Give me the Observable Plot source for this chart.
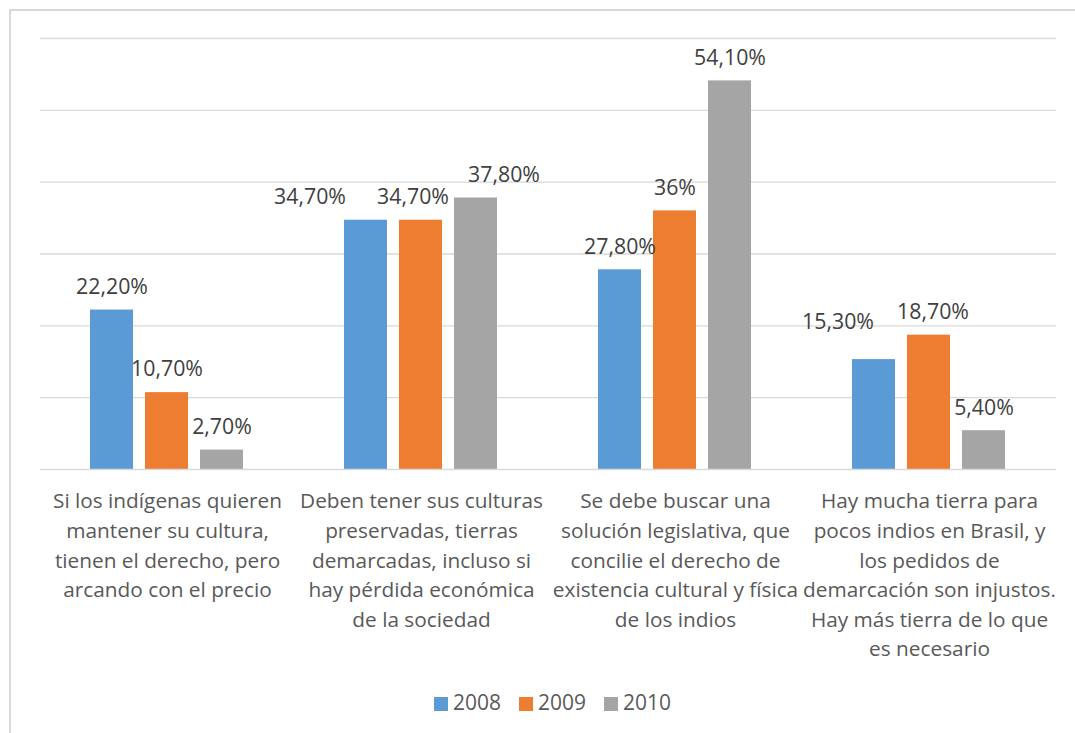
<!DOCTYPE html>
<html><head><meta charset="utf-8">
<script src="https://cdn.jsdelivr.net/npm/d3@7"></script>
<script src="https://cdn.jsdelivr.net/npm/@observablehq/plot@0.6"></script>
<style>
html,body{margin:0;padding:0;background:#fff;}
body{width:1075px;height:733px;position:relative;overflow:hidden;font-family:"Open Sans",sans-serif;}
#frame{position:absolute;left:9px;top:9px;width:1100px;height:760px;border-left:2px solid #d9d9d9;border-top:2px solid #d9d9d9;pointer-events:none;}
#chart{position:absolute;left:0;top:0;}
#legend{position:absolute;left:30px;top:689px;width:1045px;text-align:center;font-size:21px;color:#595959;line-height:26px;}
#legend span.item{display:inline-block;margin:0 9px;}
#legend span.sw{display:inline-block;width:14px;height:14px;margin-right:5px;vertical-align:-1px;}
</style></head>
<body>
<div id="frame"></div>
<div id="chart"></div>
<div id="legend"></div>
<script>
const categories = [
  "Si los indígenas quieren\nmantener su cultura,\ntienen el derecho, pero\narcando con el precio",
  "Deben tener sus culturas\npreservadas, tierras\ndemarcadas, incluso si\nhay pérdida económica\nde la sociedad",
  "Se debe buscar una\nsolución legislativa, que\nconcilie el derecho de\nexistencia cultural y física\nde los indios",
  "Hay mucha tierra para\npocos indios en Brasil, y\nlos pedidos de\ndemarcación son injustos.\nHay más tierra de lo que\nes necesario"
];
const years = ["2008", "2009", "2010"];
const values2008 = [22.2, 34.7, 27.8, 15.3];
const values2009 = [10.7, 34.7, 36, 18.7];
const values2010 = [2.7, 37.8, 54.1, 5.4];
const labels2008 = ["22,20%", "34,70%", "27,80%", "15,30%"];
const labels2009 = ["10,70%", "34,70%", "36%", "18,70%"];
const labels2010 = ["2,70%", "37,80%", "54,10%", "5,40%"];
const colors = ["#5B9BD5", "#ED7D31", "#A5A5A5"];

const seriesValues = [values2008, values2009, values2010];
const seriesLabels = [labels2008, labels2009, labels2010];
const data = [];
years.forEach((y, si) => categories.forEach((c, ci) => {
  data.push({cat: c, year: y, value: seriesValues[si][ci], label: seriesLabels[si][ci], ci, si});
}));

// layout nudges for a few data labels (as placed in the original)
const nudge = {"1-0": [-56, 0], "1-1": [-8, 0], "1-2": [28, 0], "3-0": [-36, -14], "3-1": [4, 0]};
const groups = d3.group(data, d => (nudge[d.ci + "-" + d.si] || [0, 0]).join(","));
const labelMarks = [];
for (const [key, rows] of groups) {
  const [dx, dy] = key.split(",").map(Number);
  labelMarks.push(Plot.text(rows, {
    fx: "cat", x: "year", y: "value", text: "label",
    dx, dy: -23 + dy, fontSize: 21.3, fill: "#404040"
  }));
}

const H = 680;
const chart = Plot.plot({
  width: 1075,
  height: H,
  marginLeft: 39,
  marginRight: 18,
  marginTop: 38,
  marginBottom: H - 469,
  style: {fontFamily: "'Open Sans', sans-serif", background: "transparent"},
  fx: {domain: categories, padding: 0, axis: null},
  x: {domain: years, axis: null, paddingInner: 0.214, paddingOuter: 0.88},
  y: {domain: [0, 60], axis: null},
  color: {domain: years, range: colors},
  marks: [
    Plot.ruleY([10, 20, 30, 40, 50, 60], {stroke: "#d9d9d9", strokeWidth: 1.3, strokeOpacity: 1}),
    Plot.barY(data, {fx: "cat", x: "year", y: "value", fill: "year"}),
    Plot.ruleY([0], {stroke: "#d9d9d9", strokeWidth: 1.5, strokeOpacity: 1}),
    ...labelMarks,
    Plot.text(categories, {
      fx: d => d, text: d => d, frameAnchor: "bottom", lineAnchor: "top",
      dy: 18, lineHeight: 1.42, fontSize: 20.8, fill: "#595959"
    })
  ]
});
document.getElementById("chart").appendChild(chart);

const leg = document.getElementById("legend");
years.forEach((y, i) => {
  const s = document.createElement("span");
  s.className = "item";
  s.innerHTML = `<span class="sw" style="background:${colors[i]}"></span>${y}`;
  leg.appendChild(s);
});
</script>
</body></html>
